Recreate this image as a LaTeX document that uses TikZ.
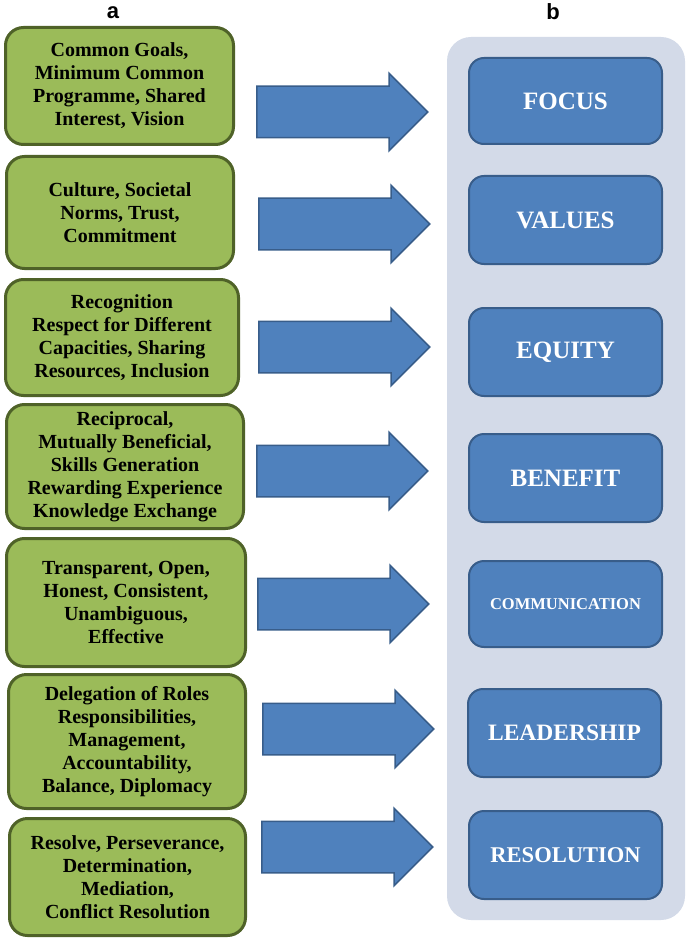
\documentclass[tikz,border=0pt]{standalone}
\usepackage{fontspec}
\setmainfont{Liberation Serif}
\newfontfamily\labfont{Liberation Sans}
\usetikzlibrary{shapes.arrows}
\definecolor{gfill}{HTML}{9BBB59}
\definecolor{gdraw}{HTML}{4F6228}
\definecolor{bfill}{HTML}{4F81BD}
\definecolor{bdraw}{HTML}{385D8A}
\definecolor{panelc}{HTML}{D3DAE8}
\begin{document}
\begin{tikzpicture}[x=1pt,y=-1pt,
  greenbox/.style={draw=gdraw, line width=3pt, fill=gfill, rounded corners=18pt,
    align=center, font=\bfseries\fontsize{20}{23}\selectfont, inner sep=0pt},
  bluebox/.style={draw=bdraw, line width=2pt, fill=bfill, rounded corners=15pt,
    text=white, minimum width=193pt, inner sep=0pt},
  blockarrow/.style={single arrow, draw=bdraw, line width=1.5pt, fill=bfill,
    single arrow head extend=13pt, inner xsep=0pt, inner ysep=25pt,
    minimum height=171pt, anchor=tail},
  lab/.style={font=\labfont\bfseries\fontsize{22}{26}\selectfont}]
\useasboundingbox (0,0) rectangle (688,941);

% labels
\node[lab] (la) at (113,13) {a};
\node[lab] (lb) at (553,12) {b};

% panel
\node[fill=panelc, rounded corners=24pt, minimum width=238pt, minimum height=883pt,
  inner sep=0pt] (panel) at (566,478.5) {};

% green boxes
\node[greenbox, minimum width=228pt, minimum height=117pt] (g1) at (119.5,86)
  {Common Goals,\\Minimum Common\\Programme, Shared\\Interest, Vision};
\node[greenbox, minimum width=227pt, minimum height=112pt] (g2) at (120,212.5)
  {Culture, Societal\\Norms, Trust,\\Commitment};
\node[greenbox, minimum width=233pt, minimum height=116pt] (g3) at (122,337.5)
  {Recognition\\Respect for Different\\Capacities, Sharing\\Resources, Inclusion};
\node[greenbox, minimum width=237pt, minimum height=124pt] (g4) at (125,466.5)
  {Reciprocal,\\Mutually Beneficial,\\Skills Generation\\Rewarding Experience\\Knowledge Exchange};
\node[greenbox, minimum width=239pt, minimum height=128pt] (g5) at (126,602.5)
  {Transparent, Open,\\Honest, Consistent,\\Unambiguous,\\Effective};
\node[greenbox, minimum width=237pt, minimum height=134pt] (g6) at (127,741.5)
  {Delegation of Roles\\Responsibilities,\\Management,\\Accountability,\\Balance, Diplomacy};
\node[greenbox, minimum width=236pt, minimum height=117pt] (g7) at (127.5,877)
  {Resolve, Perseverance,\\Determination,\\Mediation,\\Conflict Resolution};

% blue boxes
\node[bluebox, minimum height=86pt] (b1) at (565.5,101)
  {\bfseries\fontsize{25}{30}\selectfont FOCUS};
\node[bluebox, minimum height=88pt] (b2) at (565.5,220)
  {\bfseries\fontsize{25}{30}\selectfont VALUES};
\node[bluebox, minimum height=88pt] (b3) at (565.5,352)
  {\bfseries\fontsize{25}{30}\selectfont EQUITY};
\node[bluebox, minimum height=88pt] (b4) at (565.5,478)
  {\bfseries\fontsize{25}{30}\selectfont BENEFIT};
\node[bluebox, minimum height=86pt] (b5) at (565.5,604)
  {\bfseries\fontsize{16.5}{20}\selectfont COMMUNICATION};
\node[bluebox, minimum height=88pt] (b6) at (564.5,733)
  {\bfseries\fontsize{23.5}{28}\selectfont LEADERSHIP};
\node[bluebox, minimum height=88pt] (b7) at (565.5,855)
  {\bfseries\fontsize{22.5}{27}\selectfont RESOLUTION};

% block arrows
\node[blockarrow] (a1) at (256,112) {};
\node[blockarrow] (a2) at (258,224) {};
\node[blockarrow] (a3) at (258,347) {};
\node[blockarrow] (a4) at (256,471) {};
\node[blockarrow] (a5) at (257,604) {};
\node[blockarrow] (a6) at (262,729) {};
\node[blockarrow] (a7) at (261,847) {};
\end{tikzpicture}
\end{document}
